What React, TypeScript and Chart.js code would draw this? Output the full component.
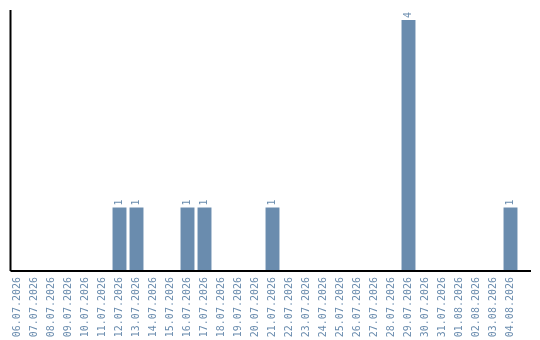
import React, { useEffect, useRef } from "react";
import { Chart, registerables } from "chart.js";

Chart.register(...registerables);

const dates = [
  "06.07.2026", "07.07.2026", "08.07.2026", "09.07.2026", "10.07.2026",
  "11.07.2026", "12.07.2026", "13.07.2026", "14.07.2026", "15.07.2026",
  "16.07.2026", "17.07.2026", "18.07.2026", "19.07.2026", "20.07.2026",
  "21.07.2026", "22.07.2026", "23.07.2026", "24.07.2026", "25.07.2026",
  "26.07.2026", "27.07.2026", "28.07.2026", "29.07.2026", "30.07.2026",
  "31.07.2026", "01.08.2026", "02.08.2026", "03.08.2026", "04.08.2026",
];

const counts = [
  0, 0, 0, 0, 0,
  0, 1, 1, 0, 0,
  1, 1, 0, 0, 0,
  1, 0, 0, 0, 0,
  0, 0, 0, 4, 0,
  0, 0, 0, 0, 1,
];

const yMax = 4.16;

const BAR_COLOR = "#6a8cae";
const TEXT_COLOR = "#6a8cae";
const FONT_FAMILY = "'DejaVu Sans Mono', monospace";

// Draws the value above each non-empty bar, rotated to read upwards
const valueLabels = {
  id: "valueLabels",
  afterDatasetsDraw(chart: any) {
    const ctx = chart.ctx;
    const meta = chart.getDatasetMeta(0);
    ctx.save();
    ctx.fillStyle = TEXT_COLOR;
    ctx.font = `10px ${FONT_FAMILY}`;
    ctx.textAlign = "left";
    ctx.textBaseline = "middle";
    meta.data.forEach((bar: any, i: number) => {
      const v = counts[i];
      if (!v) return;
      ctx.save();
      ctx.translate(bar.x, bar.y - 2);
      ctx.rotate(-Math.PI / 2);
      ctx.fillText(String(v), 0, 0);
      ctx.restore();
    });
    ctx.restore();
  },
};

// Left and bottom axis lines; the bottom one runs on past the last category
const axisLines = {
  id: "axisLines",
  afterDraw(chart: any) {
    const { ctx, chartArea } = chart;
    ctx.save();
    ctx.strokeStyle = "#000";
    ctx.lineWidth = 2;
    ctx.beginPath();
    ctx.moveTo(chartArea.left + 1.5, chartArea.top);
    ctx.lineTo(chartArea.left + 1.5, chartArea.bottom + 1);
    ctx.moveTo(chartArea.left + 1.5, chartArea.bottom + 1);
    ctx.lineTo(chart.width - 9, chartArea.bottom + 1);
    ctx.stroke();
    ctx.restore();
  },
};

export default function App() {
  const canvasRef = useRef<HTMLCanvasElement | null>(null);

  useEffect(() => {
    if (!canvasRef.current) return;
    const chart = new Chart(canvasRef.current, {
      type: "bar",
      data: {
        labels: dates,
        datasets: [
          {
            data: counts,
            backgroundColor: BAR_COLOR,
            borderWidth: 0,
            barPercentage: 0.82,
            categoryPercentage: 1,
          },
        ],
      },
      options: {
        animation: false,
        responsive: false,
        layout: { padding: { left: 9, top: 10, right: 21, bottom: 0 } },
        plugins: {
          legend: { display: false },
          tooltip: { enabled: false },
        },
        scales: {
          x: {
            grid: { display: false, drawTicks: false },
            border: { display: false },
            ticks: {
              autoSkip: false,
              minRotation: 90,
              maxRotation: 90,
              padding: 7,
              color: TEXT_COLOR,
              font: { family: FONT_FAMILY, size: 10 },
            },
            afterFit(scale: any) {
              scale.height = 70;
            },
          },
          y: {
            display: false,
            min: 0,
            max: yMax,
          },
        },
      },
      plugins: [valueLabels, axisLines],
    });
    return () => chart.destroy();
  }, []);

  return (
    <div style={{ position: "fixed", left: 0, top: 0, width: 540, height: 340, background: "#fff" }}>
      <canvas ref={canvasRef} width={540} height={340} />
    </div>
  );
}
